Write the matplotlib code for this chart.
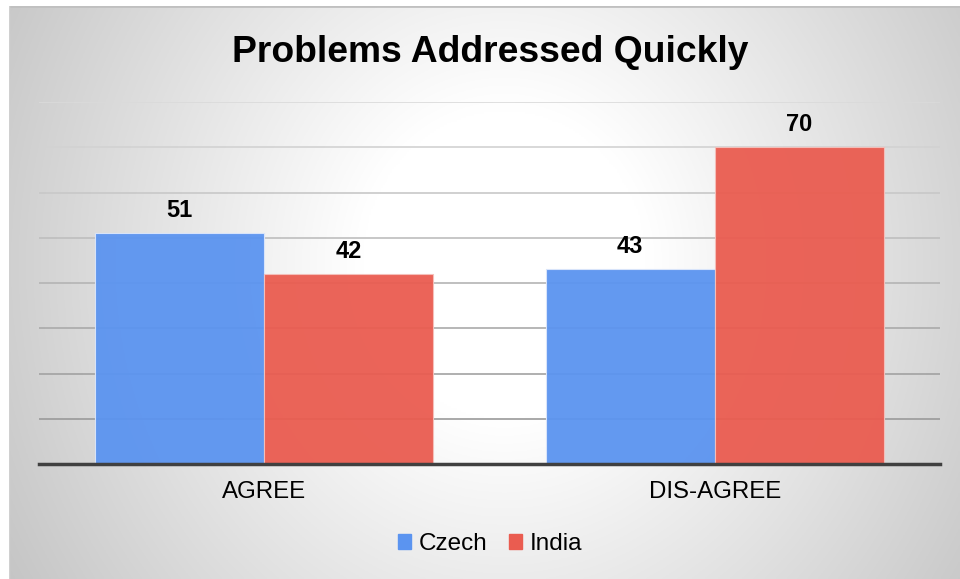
#调用库
import numpy as np
import matplotlib
matplotlib.use('Agg')
import matplotlib.pyplot as plt
from matplotlib.patches import Patch

plt.rcParams['font.family'] = ['Liberation Sans', 'DejaVu Sans']

#数据
categories = ['AGREE', 'DIS-AGREE']
series = ['Czech', 'India']
czech = [51, 43]
india = [42, 70]
colors = ['#5B94F0', '#EA5C50']
title = 'Problems Addressed Quickly'

#画布
fig = plt.figure(figsize=(9.6, 5.79), dpi=100)
fig.patch.set_facecolor('white')

#背景渐变（径向）
bg = fig.add_axes([9/960, 0, 951/960, 1 - 6/579])
h, w = 300, 500
yy, xx = np.mgrid[0:h, 0:w]
cx, cy = 0.52 * w, 0.45 * h
d = np.sqrt(((xx - cx) / (0.5 * w)) ** 2 + ((yy - cy) / (0.9 * h)) ** 2)
v = 1 - 0.2 * np.clip((d - 0.3) / 0.8, 0, 1.2)
bg.imshow(np.dstack([v, v, v]), aspect='auto', extent=[0, 1, 0, 1], origin='upper')
bg.axhline(1, color='#c0c0c0', lw=2)
bg.axvline(0, color='#d0d0d0', lw=1)
bg.set_xlim(0, 1)
bg.set_ylim(0, 1)
bg.axis('off')

#柱状图
ax = fig.add_axes([39/960, 1 - 464/579, 901/960, (464 - 102)/579])
ax.patch.set_alpha(0)
x = np.arange(len(categories))
bw = 0.375
b1 = ax.bar(x - bw/2, czech, bw, color=colors[0], alpha=0.95, edgecolor='#dbe6fb', linewidth=0.8, zorder=3)
b2 = ax.bar(x + bw/2, india, bw, color=colors[1], alpha=0.95, edgecolor='#f5c0bb', linewidth=0.8, zorder=3)
for bars in (b1, b2):
    ax.bar_label(bars, padding=8, fontsize=17, fontweight='bold')

#网格线（上浅下深）
grid_vals = np.arange(10, 81, 10)
grid_cols = ['#9a9a9a', '#a2a2a2', '#aaaaaa', '#b4b4b4', '#bebebe', '#c8c8c8', '#d2d2d2', '#dadada']
for gv, gc in zip(grid_vals, grid_cols):
    ax.axhline(gv, color=gc, lw=1.2, zorder=1)

ax.set_xlim(-0.5, 1.5)
ax.set_ylim(0, 80)
ax.set_yticks([])
ax.set_xticks(x)
ax.set_xticklabels(categories, fontsize=17.3)
ax.tick_params(axis='x', length=0, pad=12)
for s in ['top', 'right', 'left']:
    ax.spines[s].set_visible(False)
ax.spines['bottom'].set_color('#404040')
ax.spines['bottom'].set_linewidth(2.5)
ax.spines['bottom'].set_zorder(4)

#标题和图例
fig.text(490/960, 1 - 53/579, title, ha='center', va='center', fontsize=26.8, fontweight='bold')
handles = [Patch(color=c) for c in colors]
fig.legend(handles, series, loc='center', bbox_to_anchor=(490/960, 1 - 544/579), ncol=2,
           frameon=False, fontsize=17.5, handlelength=0.55, handleheight=0.55,
           handletextpad=0.3, columnspacing=0.9)

fig.savefig('out.png', dpi=100)
